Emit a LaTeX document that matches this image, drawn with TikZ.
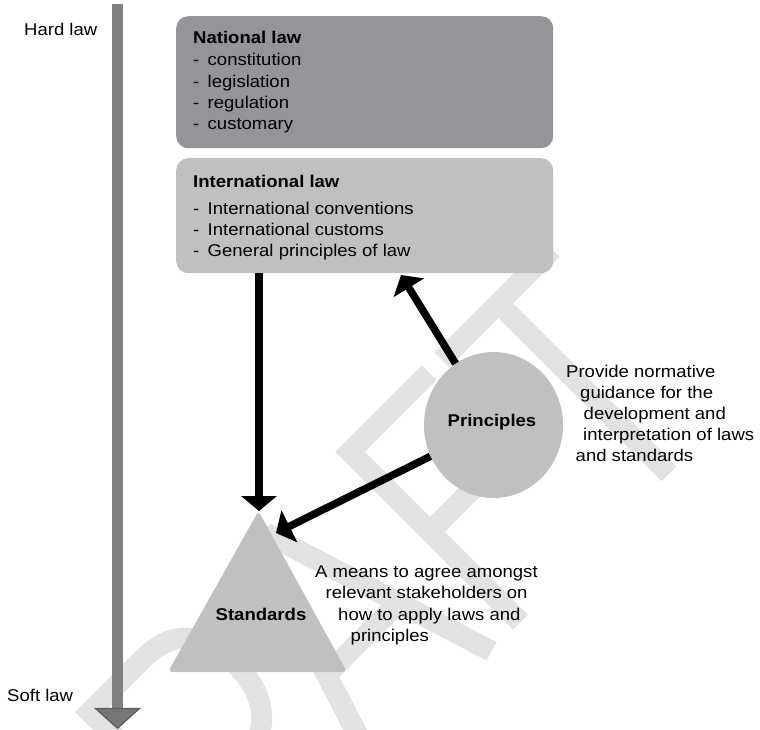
\documentclass[tikz,border=0pt]{standalone}
\usepackage{fontspec}
\setmainfont{Liberation Sans}[FakeStretch=1.09]
\usetikzlibrary{arrows.meta,shapes.geometric}
\definecolor{natfill}{RGB}{148,149,153}
\definecolor{intfill}{RGB}{191,192,194}
\definecolor{barcol}{RGB}{128,128,128}
\definecolor{headcol}{RGB}{118,118,118}
\definecolor{headedge}{RGB}{92,92,92}
\definecolor{wmcol}{RGB}{226,226,226}
\begin{document}
\begin{tikzpicture}[x=1pt,y=-1pt,
  txt/.style={font=\fontsize{17}{21.3}\selectfont, inner sep=0pt, anchor=base west},
  bold/.style={txt, font=\fontsize{17}{21.3}\selectfont\bfseries},
  lawbox/.style={rounded corners=12pt, minimum width=377pt, anchor=north west, inner sep=0pt},
  bigarrow/.style={line width=7.5pt, -{Triangle[length=15pt,width=35pt]}},
  wm/.style={draw=wmcol, line width=21pt, line join=miter, line cap=butt}
]
\useasboundingbox (0,0) rectangle (760,729);
% watermark DRAFT
\begin{scope}
\clip (0,0) rectangle (760,729);
\begin{scope}[shift={(571.34,571.34)}, x={(0.70711pt,0.70711pt)}, y={(-0.70711pt,0.70711pt)}]
% D
\draw[wm] (-590,0) -- (-590,251.5);
\draw[wm] (-600.5,241) -- (-545,241) .. controls (-490,241) and (-478,190) .. (-478,125.75) .. controls (-478,61) and (-490,10.5) .. (-545,10.5) -- (-600.5,10.5);
% R
\draw[wm] (-440,0) -- (-440,241) -- (-365,241) .. controls (-318,241) and (-303,212) .. (-303,172) .. controls (-303,128) and (-325,98) .. (-370,98) -- (-440,98);
\draw[wm] (-385,98) -- (-318,0);
% A
\draw[wm] (-278,0) -- (-203,236) -- (-187,236) -- (-113,0);
\draw[wm] (-247.7,100) -- (-142.9,100);
% F
\draw[wm] (-72,0) -- (-72,241) -- (40,241);
\draw[wm] (-72,128) -- (15,128);
% T
\draw[wm] (58,241) -- (214,241);
\draw[wm] (138,0) -- (138,241);
\end{scope}
\end{scope}
% hard/soft law axis
\coordinate (hardtop) at (117.5,4);
\coordinate (softbase) at (117.5,708.5);
\draw[barcol, line width=11pt] (hardtop) -- (softbase);
\filldraw[fill=headcol, draw=headedge, line width=1.2pt] (95.5,708.5) -- (139.5,708.5) -- (117.5,728.3) -- cycle;
% boxes
\node[lawbox, fill=natfill, minimum height=132pt] (nat) at (176,16) {};
\node[lawbox, fill=intfill, minimum height=115pt] (intl) at (176,158) {};
% principles circle
\node[ellipse, fill=intfill, minimum width=139pt, minimum height=146pt, inner sep=0pt] (prin) at (493.5,425) {};
% standards triangle
\fill[intfill, rounded corners=4pt] (258.5,511) -- (347,672) -- (168,672) -- cycle;
\coordinate (stdtop) at (259,511);
\coordinate (stdside) at (276,533);
\coordinate (intltip) at (401,275);
% arrows
\draw[bigarrow] (intl.south -| stdtop) -- (stdtop);
\draw[bigarrow] (prin) -- (intltip);
\draw[bigarrow] (prin) -- (stdside);
% texts
\node[txt] (hard) at (24,35) {Hard law};
\node[txt] (soft) at (7,701) {Soft law};
\node[bold] (natt) at (193,43) {National law};
\node[txt] (n1) at (193,65) {\makebox[14.5pt][l]{-}constitution};
\node[txt] (n2) at (193,87) {\makebox[14.5pt][l]{-}legislation};
\node[txt] (n3) at (193,108) {\makebox[14.5pt][l]{-}regulation};
\node[txt] (n4) at (193,129.5) {\makebox[14.5pt][l]{-}customary};
\node[bold] (intt) at (193,187) {International law};
\node[txt] (i1) at (193,214.5) {\makebox[14.5pt][l]{-}International conventions};
\node[txt] (i2) at (193,235.5) {\makebox[14.5pt][l]{-}International customs};
\node[txt] (i3) at (193,256.5) {\makebox[14.5pt][l]{-}General principles of law};
\node[bold, anchor=base] (prinlbl) at (492,426) {Principles};
\node[bold, anchor=base] (stdlbl) at (261,620) {Standards};
\node[txt] (p1) at (566,377) {Provide normative};
\node[txt] (p2) at (580,398) {guidance for the};
\node[txt] (p3) at (583.5,419) {development and};
\node[txt] (p4) at (583,440) {interpretation of laws};
\node[txt] (p5) at (575.5,461.5) {and standards};
\node[txt] (m1) at (315,577) {A means to agree amongst};
\node[txt] (m2) at (325.5,598.5) {relevant stakeholders on};
\node[txt] (m3) at (338,620) {how to apply laws and};
\node[txt] (m4) at (350.5,641) {principles};
\end{tikzpicture}
\end{document}
